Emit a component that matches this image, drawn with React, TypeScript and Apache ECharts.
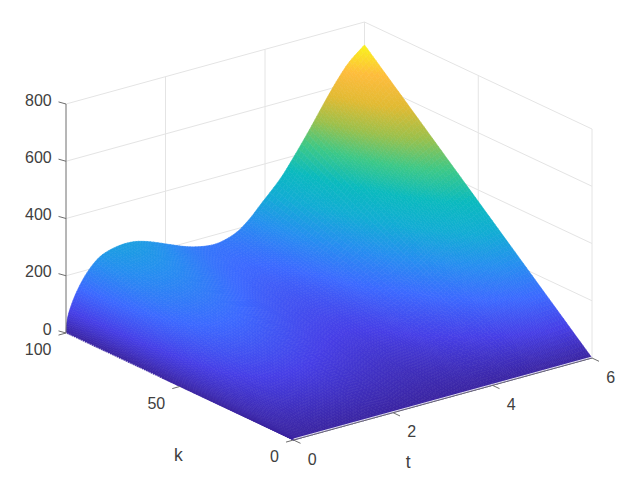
import React, { useEffect, useRef } from "react";
import * as echarts from "echarts";

// Axis ticks
const tTicks = [0, 2, 4, 6];
const kTicks = [0, 50, 100];
const zTicks = [0, 200, 400, 600, 800];

// Surface samples
const tValues = [0, 0.02, 0.08, 0.215, 0.416, 0.683, 1.02, 1.35, 1.69, 2.16, 2.49, 2.83, 3.1, 3.43, 3.7, 3.9, 4.3, 4.56, 4.9, 5.1, 5.3, 5.5, 5.7, 6];
const kValues = [0, 25, 50, 75, 100];
const zAtK0 = [0, 0, 0, 0, 0, 0, 0, 0, 0, 0, 0, 0, 0, 0, 0, 0, 0, 0, 0, 0, 0, 0, 0, 0];
const zAtK25 = [0, 10, 20, 34, 47, 59, 63, 64, 60, 51, 46, 42, 42, 47, 56, 65, 83, 98, 120, 133, 146, 159, 169, 180];
const zAtK50 = [0, 20, 40, 67, 95, 117, 127, 127, 119, 102, 91, 85, 85, 94, 112, 130, 166, 196, 239, 266, 293, 317, 338, 360];
const zAtK75 = [0, 30, 60, 101, 142, 176, 190, 191, 179, 153, 137, 127, 127, 141, 168, 195, 249, 294, 359, 399, 439, 476, 507, 540];
const zAtK100 = [0, 40, 80, 134, 189, 234, 253, 254, 238, 204, 182, 169, 169, 188, 224, 260, 332, 392, 478, 532, 585, 634, 676, 720];
const zRows = [zAtK0, zAtK25, zAtK50, zAtK75, zAtK100];

// Colour ramp of the surface
const rampColors = [
  [58, 36, 160], [70, 62, 230], [60, 105, 255], [38, 142, 240], [18, 172, 212],
  [10, 186, 190], [60, 200, 135], [155, 192, 75], [225, 186, 50], [254, 188, 60], [249, 245, 25],
];
const colorMax = 720;

// View projection (screen position = origin + t*tStep + k*kStep + z*zStep)
const origin = [293.5, 440];
const tStep = [298.5 / 6, -82 / 6];
const kStep = [-227.5 / 100, -107 / 100];
const zStep = [0, -229 / 800];
const tMax = 6;
const kMax = 100;
const zMax = 800;

const project = (t: number, k: number, z: number) => [
  origin[0] + t * tStep[0] + k * kStep[0] + z * zStep[0],
  origin[1] + t * tStep[1] + k * kStep[1] + z * zStep[1],
];

const rampColor = (z: number) => {
  const p = Math.min(0.99999, Math.max(0, z / colorMax)) * (rampColors.length - 1);
  const i = Math.floor(p);
  const f = p - i;
  const a = rampColors[i];
  const b = rampColors[i + 1];
  return `rgb(${a.map((v, n) => Math.round(v + (b[n] - v) * f)).join(",")})`;
};

const rowAt = (row: number[], u: number) => {
  const i = Math.min(row.length - 2, Math.floor(u));
  const f = u - i;
  const p0 = row[Math.max(0, i - 1)];
  const p1 = row[i];
  const p2 = row[i + 1];
  const p3 = row[Math.min(row.length - 1, i + 2)];
  return (
    0.5 *
    (2 * p1 + (p2 - p0) * f + (2 * p0 - 5 * p1 + 4 * p2 - p3) * f * f + (3 * p1 - p0 - 3 * p2 + p3) * f * f * f)
  );
};

const zAt = (u: number, v: number) => {
  const j = Math.min(zRows.length - 2, Math.floor(v));
  const f = v - j;
  return rowAt(zRows[j], u) * (1 - f) + rowAt(zRows[j + 1], u) * f;
};

const T_SUB = 6;
const K_SUB = 20;

// Far cells first
const cells: number[][] = [];
for (let j = (kValues.length - 1) * K_SUB - 1; j >= 0; j--) {
  for (let i = (tValues.length - 1) * T_SUB - 1; i >= 0; i--) {
    cells.push([i, j]);
  }
}

const tOf = (u: number) => rowAt(tValues, u);
const kOf = (v: number) => (v / (kValues.length - 1)) * kMax;

const renderCell = (params: any, api: any) => {
  const [i, j] = cells[params.dataIndex];
  const corners = [
    [i, j],
    [i + 1, j],
    [i + 1, j + 1],
    [i, j + 1],
  ].map(([a, b]) => {
    const u = a / T_SUB;
    const v = b / K_SUB;
    return [tOf(u), kOf(v), zAt(u, v)];
  });
  const zMean = corners.reduce((s, c) => s + c[2], 0) / 4;
  const color = rampColor(zMean);
  return {
    type: "polygon",
    shape: { points: corners.map((c) => api.coord(project(c[0], c[1], c[2]))) },
    style: { fill: color, stroke: color, lineWidth: 0.6 },
    silent: true,
  };
};

// Box grid lines: [t1, k1, z1, t2, k2, z2]
const gridSegments: number[][] = [];
zTicks.slice(1).forEach((z) => {
  gridSegments.push([0, kMax, z, tMax, kMax, z]);
  gridSegments.push([tMax, kMax, z, tMax, 0, z]);
});
tTicks.slice(1).forEach((t) => gridSegments.push([t, kMax, 0, t, kMax, zMax]));
kTicks.slice(0, 2).forEach((k) => gridSegments.push([tMax, k, 0, tMax, k, zMax]));

const gridRender = (params: any, api: any) => {
  const s = gridSegments[params.dataIndex];
  const a = api.coord(project(s[0], s[1], s[2]));
  const b = api.coord(project(s[3], s[4], s[5]));
  return {
    type: "line",
    shape: { x1: a[0], y1: a[1], x2: b[0], y2: b[1] },
    style: { stroke: "#e4e4e4", lineWidth: 1 },
    silent: true,
  };
};

// Axis pieces
const axisSegments: number[][] = [
  [0, kMax, 0, 0, kMax, zMax],
  [0, 0, 0, tMax, 0, 0],
];

const tickFont = "Liberation Sans, Arial, sans-serif";

type Label = { text: string; t: number; k: number; z: number; dx: number; dy: number; align: string; size: number };
const labels: Label[] = [
  ...zTicks.map((z) => ({ text: String(z), t: 0, k: kMax, z, dx: -14.3, dy: -4, align: "right", size: 16 })),
  ...kTicks.map((k) => ({ text: String(k), t: 0, k, z: 0, dx: -14.5, dy: 16.5, align: "right", size: 16 })),
  ...tTicks.map((t) => ({ text: String(t), t, k: 0, z: 0, dx: 18.7, dy: 19, align: "center", size: 16 })),
  { text: "k", t: 0, k: 50, z: 0, dx: -1.5, dy: 68, align: "center", size: 17.5 },
  { text: "t", t: 3, k: 0, z: 0, dx: -34.5, dy: 63, align: "center", size: 17.5 },
];

const labelRender = (params: any, api: any) => {
  const l = labels[params.dataIndex];
  const p = api.coord(project(l.t, l.k, l.z));
  return {
    type: "text",
    x: p[0] + l.dx,
    y: p[1] + l.dy,
    style: { fontFamily: tickFont, fontSize: l.size, fill: "#404040", text: l.text, align: l.align, verticalAlign: "middle" },
    silent: true,
  };
};

// Tick marks: [t, k, z, which]
const tickItems: number[][] = [
  ...zTicks.map((z) => [0, kMax, z, 0]),
  ...kTicks.map((k) => [0, k, 0, 1]),
  ...tTicks.map((t) => [t, 0, 0, 2]),
];
const tickVectors = [
  [-7.5, -2.1],
  [-7.5, 2.1],
  [7, 3.3],
];

const axisRender = (params: any, api: any) => {
  const s = axisSegments[params.dataIndex];
  const a = api.coord(project(s[0], s[1], s[2]));
  const b = api.coord(project(s[3], s[4], s[5]));
  return {
    type: "line",
    shape: { x1: a[0], y1: a[1], x2: b[0], y2: b[1] },
    style: { stroke: "#6e6e6e", lineWidth: 1 },
    silent: true,
  };
};

const tickRender = (params: any, api: any) => {
  const s = tickItems[params.dataIndex];
  const a = api.coord(project(s[0], s[1], s[2]));
  const d = tickVectors[s[3]];
  return {
    type: "line",
    shape: { x1: a[0], y1: a[1], x2: a[0] + d[0], y2: a[1] + d[1] },
    style: { stroke: "#6e6e6e", lineWidth: 1 },
    silent: true,
  };
};

// The white highlight along the lower edges
const edgeSegments = [
  { from: [0, kMax, 0], to: [0, 58, 0], dash: [1, 1.5], offset: 0 },
  { from: [0, 0, 0], to: [tMax, 0, 0], dash: undefined, offset: -1 },
];
const edgeRender = (params: any, api: any) => {
  const s = edgeSegments[params.dataIndex];
  const a = api.coord(project(s.from[0], s.from[1], s.from[2]));
  const b = api.coord(project(s.to[0], s.to[1], s.to[2]));
  return {
    type: "line",
    shape: { x1: a[0], y1: a[1] + s.offset, x2: b[0], y2: b[1] + s.offset },
    style: { stroke: "#ffffff", opacity: 0.85, lineWidth: 1, lineDash: s.dash },
    silent: true,
  };
};

const customSeries = (name: string, count: number, renderItem: any) => ({
  type: "custom",
  name,
  coordinateSystem: "cartesian2d",
  renderItem,
  data: Array.from({ length: count }, (_, i) => [i]),
  encode: { x: -1, y: -1 },
  clip: false,
  silent: true,
  animation: false,
  progressive: 0,
});

export default function App() {
  const ref = useRef<HTMLDivElement>(null);
  useEffect(() => {
    const chart = echarts.init(ref.current!, undefined, { renderer: "svg" });
    chart.setOption({
      animation: false,
      grid: { left: 0, right: 0, top: 0, bottom: 0 },
      xAxis: { type: "value", min: 0, max: 639, show: false },
      yAxis: { type: "value", min: 0, max: 480, inverse: true, show: false },
      tooltip: { show: false },
      series: [
        customSeries("grid", gridSegments.length, gridRender),
        customSeries("surface", cells.length, renderCell),
        customSeries("axis", axisSegments.length, axisRender),
        customSeries("edge", edgeSegments.length, edgeRender),
        customSeries("ticks", tickItems.length, tickRender),
        customSeries("labels", labels.length, labelRender),
      ],
    });
    return () => chart.dispose();
  }, []);
  return <div ref={ref} style={{ position: "absolute", left: 0, top: 0, width: 639, height: 480 }} />;
}
